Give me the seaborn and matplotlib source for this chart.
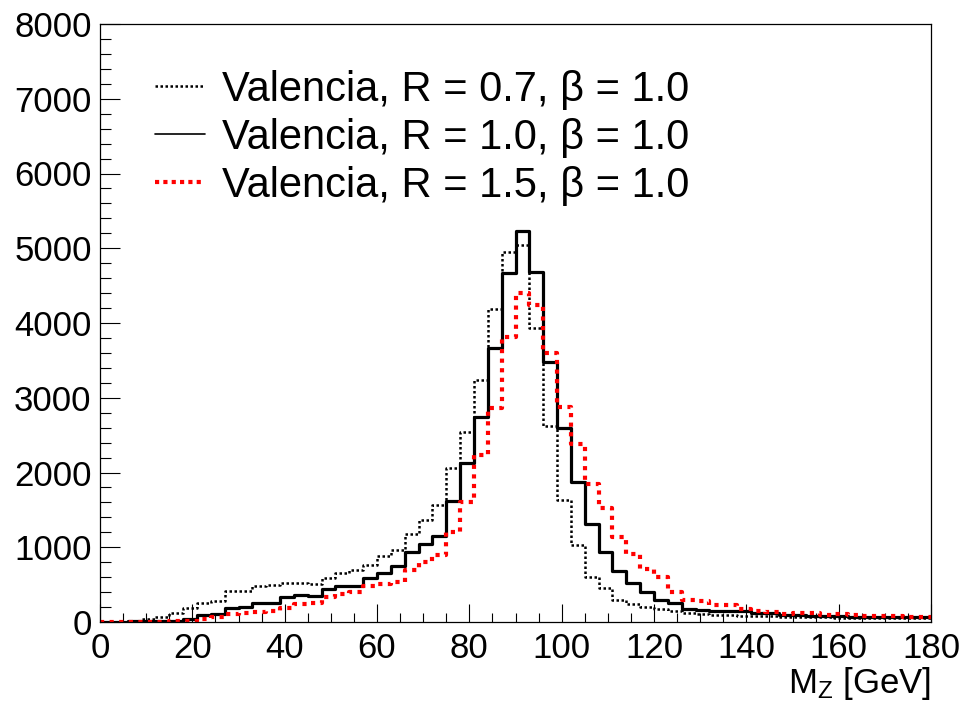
import numpy as np
import pandas as pd
import matplotlib
matplotlib.use("Agg")
import matplotlib.pyplot as plt
from matplotlib.ticker import MultipleLocator
from matplotlib.lines import Line2D
import seaborn as sns

# ---- data (3 GeV bins from 0 to 180) ----
bin_edges = list(range(0, 183, 3))

r07 = [3, 5, 15, 35, 70, 116, 190, 250, 275, 420,
       415, 480, 495, 525, 520, 505, 584, 660, 690, 763,
       883, 963, 1177, 1365, 1565, 2056, 2546, 3238, 4183, 4955,
       5044, 3929, 2622, 1632, 1030, 598, 451, 294, 241, 205,
       174, 143, 116, 105, 100, 92, 85, 80, 75, 70,
       68, 65, 62, 60, 58, 56, 55, 53, 52, 50]

r10 = [5, 5, 8, 10, 15, 20, 36, 95, 105, 192,
       195, 250, 258, 340, 361, 348, 437, 478, 485, 584,
       660, 749, 941, 1039, 1151, 1619, 2123, 2747, 3670, 4665,
       5230, 4679, 3483, 2591, 1869, 1311, 941, 682, 526, 406,
       294, 259, 170, 160, 150, 150, 145, 118, 115, 90,
       88, 85, 82, 75, 72, 72, 70, 70, 68, 66]

r15 = [2, 2, 3, 4, 5, 8, 20, 45, 65, 105,
       125, 140, 150, 190, 240, 250, 339, 375, 405, 486,
       508, 540, 696, 807, 896, 1208, 1610, 2234, 2859, 3817,
       4398, 4241, 3595, 2872, 2377, 1842, 1530, 1142, 905, 705,
       598, 397, 300, 281, 227, 221, 174, 147, 138, 110,
       125, 120, 90, 107, 100, 75, 80, 80, 72, 72]

labels = ["Valencia, R = 0.7, \u03b2 = 1.0",
          "Valencia, R = 1.0, \u03b2 = 1.0",
          "Valencia, R = 1.5, \u03b2 = 1.0"]
x_ticks = [0, 20, 40, 60, 80, 100, 120, 140, 160, 180]
y_ticks = [0, 1000, 2000, 3000, 4000, 5000, 6000, 7000, 8000]
x_label = "M$_{\\mathrm{Z}}$ [GeV]"

# ---- style ----
sns.set_style("ticks")
plt.rcParams["font.family"] = ["Liberation Sans", "DejaVu Sans"]
plt.rcParams["mathtext.fontset"] = "custom"
plt.rcParams["mathtext.rm"] = "Liberation Sans"
plt.rcParams["mathtext.it"] = "Liberation Sans"
plt.rcParams["text.color"] = "black"
plt.rcParams["axes.labelcolor"] = "black"
plt.rcParams["xtick.color"] = "black"
plt.rcParams["ytick.color"] = "black"

edges = np.array(bin_edges, dtype=float)
centers = (edges[:-1] + edges[1:]) / 2
df = pd.DataFrame({"mz": np.tile(centers, 3),
                   "w": r07 + r10 + r15,
                   "series": np.repeat(labels, len(centers))})

fig = plt.figure(figsize=(9.66, 7.03), dpi=100)
ax = fig.add_axes([100 / 966, 1 - 622 / 703, 831 / 966, 598 / 703])

styles = {
    labels[0]: dict(color="black", linewidth=1.8, linestyle=(0, (1.0, 1.0))),
    labels[1]: dict(color="black", linewidth=2.3, linestyle="-"),
    labels[2]: dict(color="#ff0000", linewidth=3.0, linestyle=(0, (1.0, 1.3))),
}
for lab in labels:
    sub = df[df["series"] == lab]
    sns.histplot(data=sub, x="mz", weights="w", bins=list(bin_edges), element="step",
                 fill=False, ax=ax, **styles[lab])

ax.set_xlim(0, 180)
ax.set_ylim(0, 8000)
ax.set_xticks(x_ticks)
ax.set_yticks(y_ticks)
ax.xaxis.set_minor_locator(MultipleLocator(5))
ax.yaxis.set_minor_locator(MultipleLocator(200))
ax.tick_params(axis="both", which="both", direction="in", top=False, right=False,
               width=0.8, colors="black")
ax.tick_params(axis="x", which="major", length=13, pad=7, labelsize=25)
ax.tick_params(axis="x", which="minor", length=6.5)
ax.tick_params(axis="y", which="major", length=14.5, pad=6, labelsize=25)
ax.tick_params(axis="y", which="minor", length=8)
for s in ax.spines.values():
    s.set_visible(True)
    s.set_linewidth(0.9)
    s.set_color("black")

ax.set_ylabel("")
ax.set_xlabel(x_label, fontsize=25, ha="right", color="black")
ax.xaxis.set_label_coords(1.0, -0.072)

handles = [Line2D([], [], color="black", linewidth=1.8, linestyle=(0, (1.0, 1.0))),
           Line2D([], [], color="black", linewidth=1.2, linestyle="-"),
           Line2D([], [], color="#ff0000", linewidth=3.0, linestyle=(0, (1.0, 1.0)))]
leg = ax.legend(handles, labels, loc="upper left",
                bbox_to_anchor=(155 / 966, 1 - 70 / 703), bbox_transform=fig.transFigure,
                frameon=False, fontsize=30, handlelength=1.2, handletextpad=0.4,
                labelspacing=0.19, borderpad=0, borderaxespad=0)
for t in leg.get_texts():
    t.set_color("black")

fig.savefig("out.png", dpi=100)
